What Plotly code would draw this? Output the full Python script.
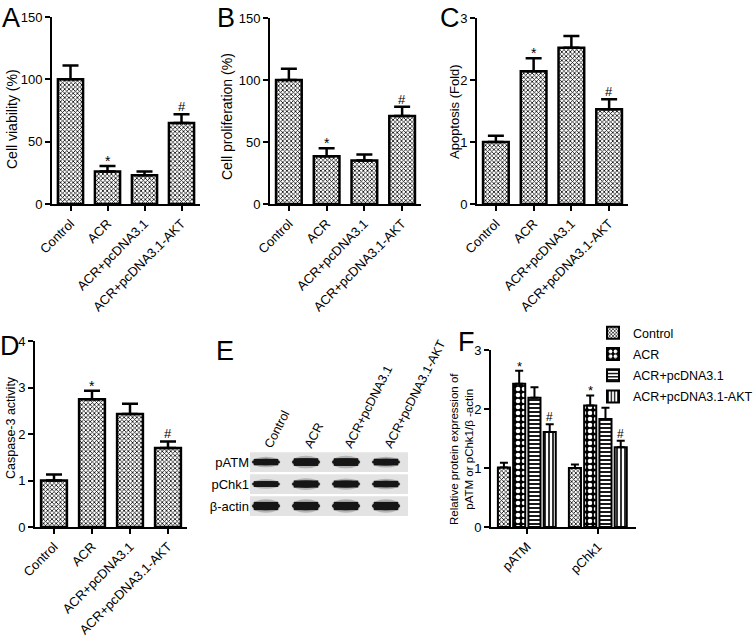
import plotly.graph_objects as go

W, H = 756, 642
FONT = "Arial, Liberation Sans, Helvetica, sans-serif"

# ---------------- data ----------------
groups = ["Control", "ACR", "ACR+pcDNA3.1", "ACR+pcDNA3.1-AKT"]
sig_labels = ["", "*", "", "#"]

viability = [100, 26, 23, 65]
viability_err = [11, 4.5, 3, 7]

proliferation = [100, 38.5, 35, 71]
proliferation_err = [9, 6.5, 5, 7.5]

apoptosis = [1.0, 2.14, 2.52, 1.53]
apoptosis_err = [0.10, 0.21, 0.19, 0.16]

caspase = [1.0, 2.75, 2.43, 1.70]
caspase_err = [0.13, 0.18, 0.22, 0.14]

proteins = ["pATM", "pChk1"]
f_values = {
    "Control": [1.01, 1.0],
    "ACR": [2.43, 2.06],
    "ACR+pcDNA3.1": [2.19, 1.83],
    "ACR+pcDNA3.1-AKT": [1.61, 1.35],
}
f_errors = {
    "Control": [0.08, 0.06],
    "ACR": [0.22, 0.17],
    "ACR+pcDNA3.1": [0.18, 0.19],
    "ACR+pcDNA3.1-AKT": [0.13, 0.11],
}
f_sig = {
    "Control": ["", ""],
    "ACR": ["*", "*"],
    "ACR+pcDNA3.1": ["", ""],
    "ACR+pcDNA3.1-AKT": ["#", "#"],
}

blot_rows = ["pATM", "pChk1", "β-actin"]
band_intensity = {
    "pATM": [0.55, 0.8, 0.8, 0.6],
    "pChk1": [0.45, 0.7, 0.65, 0.55],
    "β-actin": [0.9, 0.9, 0.9, 0.9],
}


# ---------------- helpers ----------------
def fx(px):
    return px / W


def fy(py):
    return 1 - py / H


control_pattern = dict(shape="x", size=3, solidity=0.45, fgcolor="black", bgcolor="white")
f_patterns = {
    "Control": control_pattern,
    "ACR": dict(shape=".", size=6, solidity=0.45, fgcolor="white", bgcolor="black"),
    "ACR+pcDNA3.1": dict(shape="-", size=4, solidity=0.45, fgcolor="black", bgcolor="white"),
    "ACR+pcDNA3.1-AKT": dict(shape="|", size=4, solidity=0.4, fgcolor="black", bgcolor="white"),
}

fig = go.Figure()
annotations = []


def axis_style(**kw):
    d = dict(
        showline=True, linecolor="black", linewidth=2,
        ticks="outside", ticklen=5, tickwidth=2, tickcolor="black",
        showgrid=False, zeroline=False, automargin=False,
        tickfont=dict(family=FONT, size=13, color="black"),
        fixedrange=True,
    )
    d.update(kw)
    return d


def label(xp, yp, text, size, angle=0):
    annotations.append(dict(x=fx(xp), y=fy(yp), xref="paper", yref="paper", text=text,
                            textangle=angle, showarrow=False, xanchor="center", yanchor="middle",
                            font=dict(family=FONT, size=size, color="black")))


panels = [
    ("1", viability, viability_err, [0, 150], 50, (52, 200), (17, 204), "Cell viability (%)", (12, 119), 14, "A", (11, 18)),
    ("2", proliferation, proliferation_err, [0, 150], 50, (270, 421), (18, 204), "Cell proliferation (%)", (227, 117), 14, "B", (226, 18)),
    ("3", apoptosis, apoptosis_err, [0, 3], 1, (477, 628), (18, 204), "Apoptosis (Fold)", (454, 112), 13, "C", (450, 18)),
    ("4", caspase, caspase_err, [0, 4], 1, (35, 187), (341, 527), "Caspase-3 activity", (11, 428), 12.5, "D", (10, 346)),
]

layout_axes = {}
for key, vals, errs, yr, dt, xd, yd, ytitle, tpos, tsize, letter, lpos in panels:
    xa = "x" if key == "1" else "x" + key
    ya = "y" if key == "1" else "y" + key
    fig.add_trace(go.Bar(
        x=groups, y=vals, xaxis=xa, yaxis=ya, width=0.68,
        marker=dict(color="white", pattern=control_pattern, line=dict(color="black", width=2.5)),
        error_y=dict(type="data", array=errs, arrayminus=[0] * len(errs), symmetric=False,
                     color="black", thickness=2.5, width=8),
        showlegend=False, hoverinfo="skip",
    ))
    xname = "xaxis" if key == "1" else "xaxis" + key
    yname = "yaxis" if key == "1" else "yaxis" + key
    layout_axes[xname] = axis_style(domain=[fx(xd[0]), fx(xd[1])], anchor=ya, tickangle=-45,
                                    range=[-0.5, 3.5], type="category")
    layout_axes[yname] = axis_style(domain=[fy(yd[1]), fy(yd[0])], anchor=xa, range=yr, dtick=dt)
    for g, v, e, s in zip(groups, vals, errs, sig_labels):
        if s:
            annotations.append(dict(x=g, y=v + e, xref=xa, yref=ya, text=s, showarrow=False,
                                    xanchor="center", yanchor="bottom", yshift=-5 if s == "*" else -2,
                                    font=dict(family=FONT, size=14 if s == "*" else 13, color="black")))
    label(tpos[0], tpos[1], ytitle, tsize, -90)
    label(lpos[0], lpos[1], letter, 27)

# ---------------- panel F ----------------
f_offsets = [-0.41, -0.195, 0.02, 0.235]
f_width = 0.17
for (g, off) in zip(groups, f_offsets):
    fig.add_trace(go.Bar(
        x=proteins, y=f_values[g], xaxis="x6", yaxis="y6", name=g, legendgroup=g,
        offset=off, width=f_width,
        marker=dict(color="white", pattern=f_patterns[g], line=dict(color="black", width=2)),
        error_y=dict(type="data", array=f_errors[g], arrayminus=[0, 0], symmetric=False,
                     color="black", thickness=2, width=4),
        showlegend=True, hoverinfo="skip",
    ))
    for i, (v, e, s) in enumerate(zip(f_values[g], f_errors[g], f_sig[g])):
        if s:
            annotations.append(dict(x=i + off + f_width / 2, y=v + e, xref="x6", yref="y6", text=s,
                                    showarrow=False, xanchor="center", yanchor="bottom",
                                    yshift=-5 if s == "*" else -2,
                                    font=dict(family=FONT, size=13 if s == "*" else 12, color="black")))

layout_axes["xaxis6"] = axis_style(domain=[fx(491), fx(636)], anchor="y6", tickangle=-45,
                                   range=[-0.507, 1.535], type="category")
layout_axes["yaxis6"] = axis_style(domain=[fy(527), fy(350)], anchor="x6", range=[0, 3], dtick=1)
label(461, 449, "Relative protein expression of<br>pATM or pChk1/β -actin", 11.5, -90)
label(467, 342, "F", 27)

# ---------------- panel E (blot) ----------------
fig.add_trace(go.Scatter(x=[0, 1, 2, 3], y=[0, 0, 0, 0], xaxis="x5", yaxis="y5", mode="markers",
                         marker=dict(opacity=0), showlegend=False, hoverinfo="skip"))
layout_axes["xaxis5"] = dict(domain=[fx(250), fx(408)], anchor="free", position=fy(455),
                             range=[-0.4, 3.55],
                             side="top", tickvals=[0, 1, 2, 3], ticktext=groups, tickangle=-63,
                             showline=False, showgrid=False, zeroline=False, ticks="", automargin=False,
                             tickfont=dict(family=FONT, size=12.5, color="black"), fixedrange=True)
layout_axes["yaxis5"] = dict(domain=[fy(517), fy(450)], anchor="x5", range=[2.5, -0.55],
                             tickvals=[0, 1, 2], ticktext=blot_rows, automargin=False,
                             showline=False, showgrid=False, zeroline=False, ticks="",
                             tickfont=dict(family=FONT, size=13, color="black"), fixedrange=True)

shapes = []
for r, row in enumerate(blot_rows):
    shapes.append(dict(type="rect", xref="x5", yref="y5", x0=-0.4, x1=3.55, y0=r - 0.45, y1=r + 0.45,
                       fillcolor="#e3e3e3", line=dict(width=0), layer="below"))
    for lane, inten in enumerate(band_intensity[row]):
        hw = 0.36
        hh = 0.1 + 0.15 * inten
        shapes.append(dict(type="circle", xref="x5", yref="y5", x0=lane - hw, x1=lane + hw,
                           y0=r - hh * 1.3, y1=r + hh * 1.3, fillcolor="rgba(120,120,120,0.45)",
                           line=dict(width=0)))
        shapes.append(dict(type="rect", xref="x5", yref="y5", x0=lane - hw * 0.85, x1=lane + hw * 0.85,
                           y0=r - hh * 0.8, y1=r + hh * 0.8, fillcolor="#161616",
                           line=dict(width=0)))
        shapes.append(dict(type="circle", xref="x5", yref="y5", x0=lane - hw * 0.97, x1=lane + hw * 0.97,
                           y0=r - hh * 0.8, y1=r + hh * 0.8, fillcolor="#161616",
                           line=dict(width=0)))
label(225, 351, "E", 27)

fig.update_layout(
    template="none",
    width=W, height=H, margin=dict(l=0, r=0, t=0, b=0, autoexpand=False),
    paper_bgcolor="white", plot_bgcolor="white",
    barmode="overlay",
    font=dict(family=FONT, color="black"),
    annotations=annotations, shapes=shapes,
    legend=dict(x=fx(593), y=fy(318), xanchor="left", yanchor="top",
                font=dict(family=FONT, size=12.5, color="black"),
                bgcolor="rgba(0,0,0,0)", tracegroupgap=2, itemsizing="constant"),
    **layout_axes,
)

fig.write_html("out.html", config={"displayModeBar": False},
               post_script="document.body.style.margin='0px';")
